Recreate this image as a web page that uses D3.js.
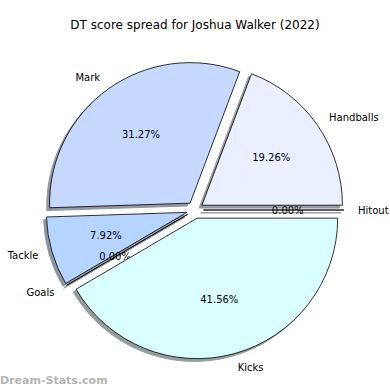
<!DOCTYPE html>
<meta charset="utf-8">
<style>
body { margin: 0; background: #fff; }
text { font-family: "DejaVu Sans", sans-serif; fill: #000; }
</style>
<svg width="390" height="390"></svg>
<script src="https://d3js.org/d3.v7.min.js"></script>
<script>

var categories = ["Hitout", "Handballs", "Mark", "Tackle", "Goals", "Kicks"];
var shares = [0.00, 19.26, 31.27, 7.92, 0.00, 41.56];
var colours = ["#dde9ff", "#eaf0ff", "#c5d9ff", "#b5d4ff", "#cce6ff", "#daffff"];

var svg = d3.select("svg");

var cx = 195, cy = 210, r = 140.5, explode = 0.06;

var data = categories.map(function(c, i) { return {name: c, value: shares[i], color: colours[i]}; });

// matplotlib style: start at 3 o'clock, go counterclockwise
var pie = d3.pie().sort(null).value(function(d) { return d.value; })
    .startAngle(Math.PI / 2).endAngle(Math.PI / 2 - 2 * Math.PI);

var arcs = pie(data);
var arc = d3.arc().innerRadius(0).outerRadius(r);

function mid(d) { return (d.startAngle + d.endAngle) / 2; }
function at(a, dist) { return [Math.sin(a) * dist, -Math.cos(a) * dist]; }
function shade(d) {
  var c = d3.rgb(d.data.color);
  return d3.rgb(c.r * 0.3, c.g * 0.3, c.b * 0.3);
}

svg.append("text")
    .attr("x", 195).attr("y", 25)
    .attr("text-anchor", "middle").attr("dominant-baseline", "central")
    .style("font-size", "12px")
    .text("DT score spread for Joshua Walker (2022)");

var g = svg.append("g").attr("transform", "translate(" + cx + "," + cy + ")");

var slices = g.selectAll("g.slice").data(arcs).enter().append("g")
    .attr("class", "slice")
    .attr("transform", function(d) {
      var p = at(mid(d), explode * r);
      return "translate(" + p[0] + "," + p[1] + ")";
    });

// shadows first
slices.append("path")
    .attr("d", arc)
    .attr("transform", "translate(" + (-0.02 * r) + "," + (0.02 * r) + ")")
    .attr("fill", shade)
    .attr("stroke", shade)
    .attr("stroke-width", 1)
    .attr("opacity", 0.55);

slices.append("path")
    .attr("d", arc)
    .attr("fill", function(d) { return d.data.color; })
    .attr("stroke", "#000")
    .attr("stroke-width", 0.8)
    .attr("stroke-linejoin", "round");

slices.append("text")
    .attr("x", function(d) { return at(mid(d), 1.1 * r)[0]; })
    .attr("y", function(d) { return at(mid(d), 1.1 * r)[1]; })
    .attr("text-anchor", function(d) { return at(mid(d), 1)[0] > 0 ? "start" : "end"; })
    .attr("dominant-baseline", "central")
    .style("font-size", "10px")
    .text(function(d) { return d.data.name; });

slices.append("text")
    .attr("x", function(d) { return at(mid(d), 0.6 * r)[0]; })
    .attr("y", function(d) { return at(mid(d), 0.6 * r)[1]; })
    .attr("text-anchor", "middle")
    .attr("dominant-baseline", "central")
    .style("font-size", "10px")
    .text(function(d) { return d.data.value.toFixed(2) + "%"; });

svg.append("text")
    .attr("x", 0).attr("y", 380)
    .attr("dominant-baseline", "central")
    .style("font-size", "11px").style("font-weight", "bold")
    .style("fill", "#b4b4b4")
    .text("Dream-Stats.com");

</script>
